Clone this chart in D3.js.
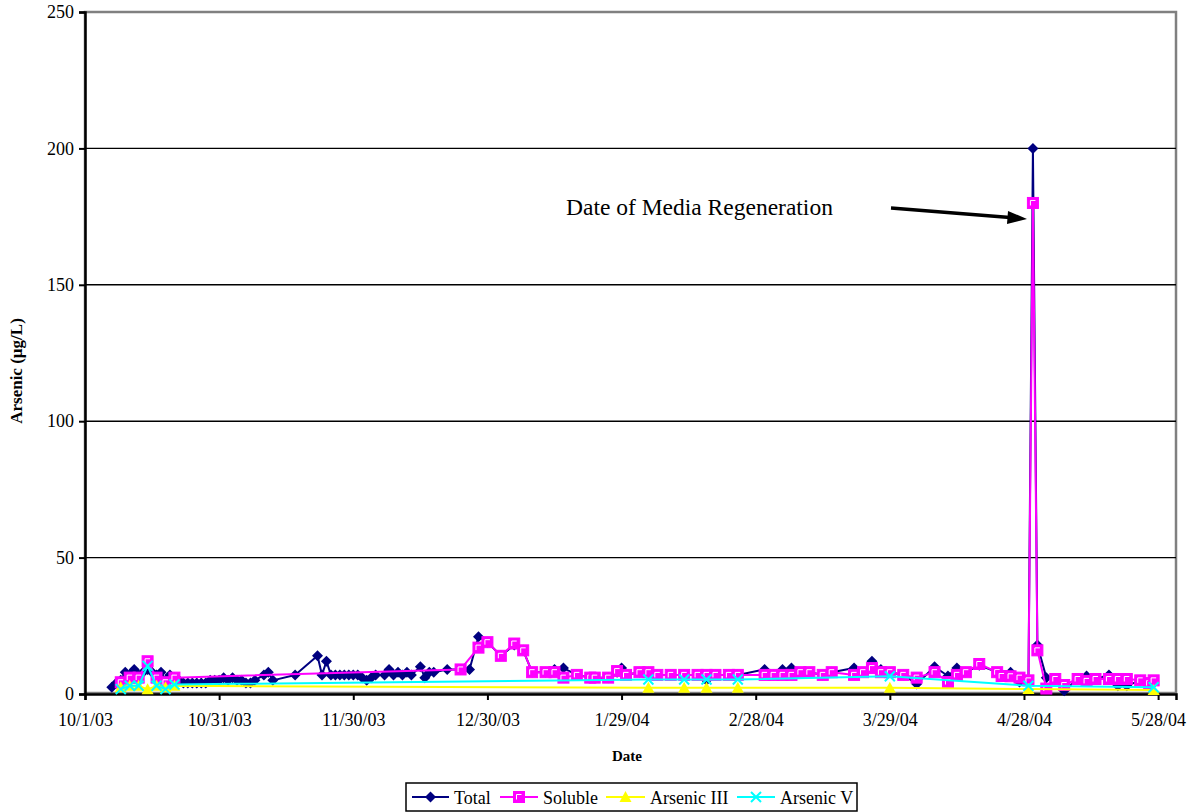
<!DOCTYPE html>
<html><head><meta charset="utf-8">
<script src="https://cdn.jsdelivr.net/npm/d3@7"></script>
<style>
html,body{margin:0;padding:0;background:#fff;}
svg{display:block;}
text{font-family:"Liberation Serif","Times New Roman",serif;fill:#000;}
</style></head>
<body><svg id="chart" width="1188" height="812"></svg>
<script>
const xTickLabels = ["10/1/03","10/31/03","11/30/03","12/30/03","1/29/04","2/28/04","3/29/04","4/28/04","5/28/04"];
const yTicks = [0,50,100,150,200,250];
const seriesNames = ["Total","Soluble","Arsenic III","Arsenic V"];
const seriesColors = ["#000080","#FF00FF","#FFFF00","#00FFFF"];

const totalData = [
["10/7/03",2.5],["10/8/03",4],["10/9/03",5],["10/10/03",8],["10/11/03",7],["10/12/03",9],["10/13/03",7],
["10/14/03",8],["10/15/03",9],["10/16/03",8],["10/17/03",7],["10/18/03",8],["10/19/03",5],["10/20/03",7],
["10/21/03",6],["10/22/03",5],["10/23/03",4],["10/24/03",4],["10/25/03",4],["10/26/03",4],["10/27/03",4],
["10/28/03",4],["10/29/03",5],["10/30/03",5],["10/31/03",5],["11/1/03",6],["11/2/03",5],["11/3/03",6],
["11/4/03",5],["11/5/03",5],["11/6/03",4],["11/7/03",4],["11/8/03",5],["11/10/03",7],["11/11/03",8],
["11/12/03",5],["11/17/03",7],["11/22/03",14],["11/23/03",7],["11/24/03",12],["11/25/03",7],["11/26/03",7],
["11/27/03",7],["11/28/03",7],["11/29/03",7],["11/30/03",7],["12/1/03",7],["12/2/03",6],["12/3/03",5],
["12/4/03",6],["12/5/03",7],["12/7/03",7],["12/8/03",9],["12/9/03",7],["12/10/03",8],["12/11/03",7],
["12/12/03",8],["12/13/03",7],["12/15/03",10],["12/16/03",6],["12/17/03",8],["12/18/03",8],["12/21/03",9],
["12/24/03",9],["12/26/03",9],["12/28/03",21],["12/30/03",19],["1/2/04",14],["1/5/04",18],["1/7/04",16],
["1/9/04",8],["1/12/04",8],["1/14/04",9],["1/16/04",9.5],["1/19/04",7],["1/22/04",6],["1/23/04",6],
["1/26/04",6],["1/28/04",8],["1/29/04",9.5],["1/30/04",7],["2/2/04",8],["2/4/04",8],["2/6/04",7],
["2/9/04",7],["2/12/04",7],["2/15/04",7],["2/17/04",5],["2/19/04",7],["2/22/04",7],["2/24/04",7],
["3/1/04",9],["3/3/04",7],["3/5/04",9],["3/7/04",9.5],["3/9/04",8],["3/11/04",8],["3/14/04",7],
["3/16/04",8],["3/21/04",9.5],["3/23/04",8],["3/25/04",12],["3/27/04",9],["3/29/04",8],["4/1/04",7],
["4/4/04",3.7],["4/8/04",10],["4/11/04",6.6],["4/13/04",9.5],["4/15/04",8],["4/18/04",10.5],["4/22/04",8],
["4/23/04",7],["4/25/04",8],["4/27/04",4.4],["4/29/04",5],["4/30/04",200],["5/1/04",18],["5/3/04",6],
["5/5/04",5.5],["5/7/04",1.2],["5/10/04",5.5],["5/12/04",6.6],["5/14/04",5.5],["5/17/04",7],["5/19/04",3],
["5/21/04",3],["5/24/04",5],["5/27/04",4]
];

const solubleData = [
["10/9/03",4.3],["10/11/03",6],["10/13/03",6],["10/15/03",12],["10/17/03",6],["10/19/03",4.3],["10/21/03",6],
["12/24/03",9],["12/28/03",17],["12/30/03",19],["1/2/04",14],["1/5/04",18.5],["1/7/04",16],["1/9/04",8],
["1/12/04",8],["1/14/04",8],["1/16/04",6],["1/19/04",7],["1/22/04",6],["1/23/04",6],["1/26/04",6],
["1/28/04",8.4],["1/30/04",7],["2/2/04",8],["2/4/04",8],["2/6/04",7],["2/9/04",7],["2/12/04",7],
["2/15/04",7],["2/17/04",7],["2/19/04",7],["2/22/04",7],["2/24/04",7],["3/1/04",7],["3/3/04",7],
["3/5/04",7],["3/7/04",7],["3/9/04",8],["3/11/04",8],["3/14/04",7],["3/16/04",8],["3/21/04",7],
["3/23/04",8],["3/25/04",9.5],["3/27/04",8],["3/29/04",8],["4/1/04",7],["4/4/04",6],["4/8/04",8],
["4/11/04",4.4],["4/13/04",7],["4/15/04",8],["4/18/04",11],["4/22/04",8],["4/23/04",6.6],["4/25/04",6.5],
["4/27/04",6],["4/29/04",5],["4/30/04",180],["5/1/04",16],["5/3/04",2],["5/5/04",5.5],["5/7/04",3.3],
["5/10/04",5.5],["5/12/04",4.8],["5/14/04",5.5],["5/17/04",5.5],["5/19/04",5.5],["5/21/04",5.5],
["5/24/04",5],["5/26/04",4],["5/27/04",5]
];

const arsenic3Data = [
["10/9/03",2.5],["10/11/03",3],["10/13/03",3],["10/15/03",1.7],["10/17/03",3],["10/19/03",2.5],["10/21/03",3],
["2/4/04",2.3],["2/12/04",2.3],["2/17/04",2.3],["2/24/04",2.3],["3/29/04",2.3],["4/29/04",1.8],["5/27/04",1.5]
];

const arsenic5Data = [
["10/9/03",1.8],["10/11/03",3],["10/13/03",3],["10/15/03",10.3],["10/17/03",3],["10/19/03",1.8],["10/21/03",3.5],
["2/4/04",5.3],["2/12/04",5.3],["2/17/04",5.3],["2/24/04",5.3],["3/29/04",6.5],["4/29/04",3],["5/27/04",2.5]
];

const annotationText = "Date of Media Regeneration";
const axisTitleX = "Date";
const axisTitleY = "Arsenic  (µg/L)";

const parse = d3.utcParse("%m/%d/%y");
const svg = d3.select("#chart");
const L = 85, R = 1176, T = 12, B = 694;

const x = d3.scaleUtc().domain([parse("10/1/03"), parse("6/1/04")]).range([L, R]);
const y = d3.scaleLinear().domain([0, 250]).range([B, T]);

// plot area border (gray)
svg.append("rect").attr("x", L).attr("y", T).attr("width", R - L).attr("height", B - T - 1)
  .attr("fill", "#fff").attr("stroke", "#808080").attr("stroke-width", 2.5);

// gridlines
svg.append("g").selectAll("line").data(yTicks.filter(v => v > 0 && v < 250)).join("line")
  .attr("x1", L).attr("x2", R).attr("y1", d => y(d)).attr("y2", d => y(d))
  .attr("stroke", "#000").attr("stroke-width", 1.4);

// axes
const yAxis = d3.axisLeft(y).tickValues(yTicks).tickSize(6).tickPadding(5).tickFormat(d3.format("d"));
const gy = svg.append("g").attr("transform", `translate(${L},0)`).call(yAxis);
gy.select(".domain").attr("stroke", "#000").attr("stroke-width", 2.5);
gy.selectAll(".tick line").attr("stroke", "#000").attr("stroke-width", 2);
gy.selectAll(".tick text").attr("font-size", 18).attr("font-family", "Liberation Serif").attr("fill", "#000");

const xAxis = d3.axisBottom(x).tickValues(xTickLabels.map(parse)).tickSize(6).tickPadding(13)
  .tickFormat((d, i) => xTickLabels[i]);
const gx = svg.append("g").attr("transform", `translate(0,${B})`).call(xAxis);
gx.select(".domain").attr("stroke", "#000").attr("stroke-width", 2.5);
gx.selectAll(".tick line").attr("stroke", "#000").attr("stroke-width", 2);
gx.selectAll(".tick text").attr("font-size", 18).attr("font-family", "Liberation Serif").attr("fill", "#000");

// axis titles
svg.append("text").attr("x", 627).attr("y", 761).attr("text-anchor", "middle")
  .attr("font-size", 15).attr("font-weight", "bold").text(axisTitleX);
svg.append("text").attr("transform", "translate(22,371) rotate(-90)").attr("text-anchor", "middle")
  .attr("font-size", 17).attr("font-weight", "bold").text(axisTitleY);

// markers
function drawMarker(g, type, color) {
  if (type === 0) {
    g.append("path").attr("d", "M0,-5.5L5.5,0L0,5.5L-5.5,0Z").attr("fill", color);
  } else if (type === 1) {
    g.append("rect").attr("x", -5.5).attr("y", -5.5).attr("width", 11).attr("height", 11)
      .attr("fill", color).attr("stroke", color).attr("stroke-width", 1);
    g.append("path").attr("d", "M-2.5,2.5V-2.5H2.5").attr("fill", "none").attr("stroke", "#fff").attr("stroke-width", 1);
  } else if (type === 2) {
    g.append("path").attr("d", "M0,-6L6,5L-6,5Z").attr("fill", color);
  } else {
    g.append("path").attr("d", "M-5,-5L5,5M5,-5L-5,5").attr("stroke", color).attr("stroke-width", 2).attr("fill", "none");
  }
}

const allSeries = [totalData, solubleData, arsenic3Data, arsenic5Data];
const line = d3.line().x(d => x(parse(d[0]))).y(d => y(d[1]));
allSeries.forEach((data, i) => {
  const g = svg.append("g");
  g.append("path").datum(data).attr("d", line).attr("fill", "none")
    .attr("stroke", seriesColors[i]).attr("stroke-width", 2).attr("stroke-linejoin", "round");
  g.selectAll("g.m").data(data).join("g").attr("class", "m")
    .attr("transform", d => `translate(${x(parse(d[0]))},${y(d[1])})`)
    .each(function () { drawMarker(d3.select(this), i, seriesColors[i]); });
});

// annotation
svg.append("text").attr("x", 566).attr("y", 215).attr("font-size", 23.5).text(annotationText);
svg.append("line").attr("x1", 891).attr("y1", 208).attr("x2", 1010).attr("y2", 217.5)
  .attr("stroke", "#000").attr("stroke-width", 3.5);
svg.append("path").attr("d", "M1027,219 L1008,211 L1007,224 Z").attr("fill", "#000");

// legend
const lg = svg.append("g");
lg.append("rect").attr("x", 406).attr("y", 783).attr("width", 451).attr("height", 28)
  .attr("fill", "#fff").attr("stroke", "#000").attr("stroke-width", 1.5);
const legendX = [412, 500, 606, 737];
const legendW = [37, 38, 39, 38];
seriesNames.forEach((name, i) => {
  const gi = lg.append("g");
  gi.append("line").attr("x1", legendX[i]).attr("x2", legendX[i] + legendW[i]).attr("y1", 797).attr("y2", 797)
    .attr("stroke", seriesColors[i]).attr("stroke-width", 2);
  const mg = gi.append("g").attr("transform", `translate(${legendX[i] + legendW[i] / 2},797)`);
  drawMarker(mg, i, seriesColors[i]);
  gi.append("text").attr("x", legendX[i] + legendW[i] + 5).attr("y", 804).attr("font-size", 18).text(name);
});
</script></body></html>
